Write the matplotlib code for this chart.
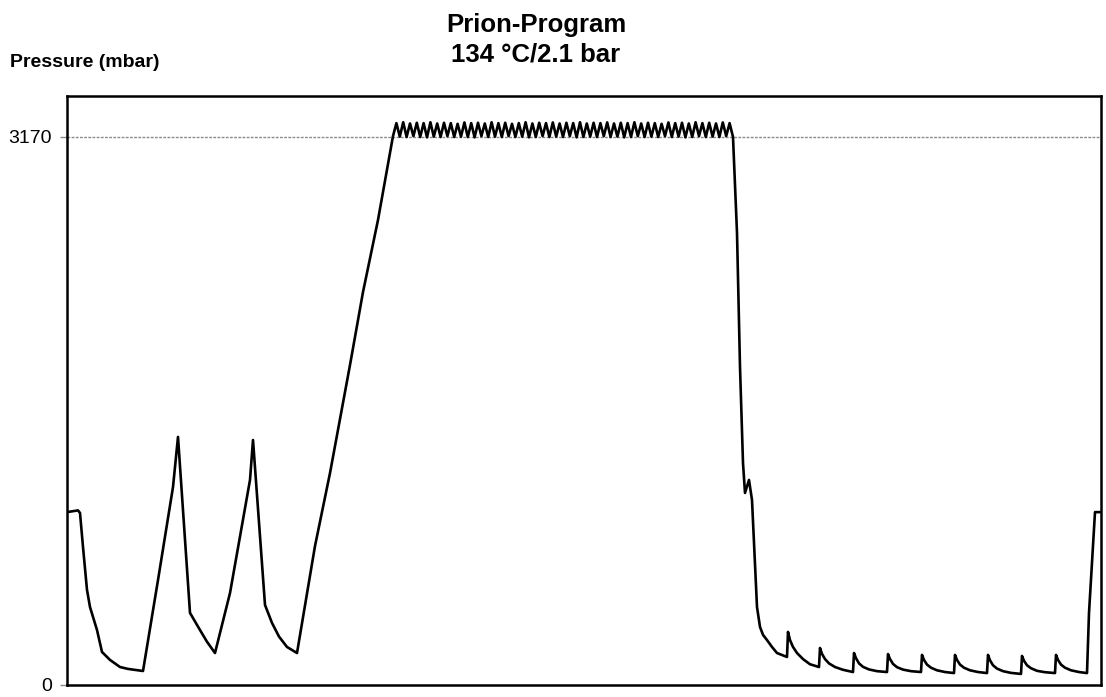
import matplotlib
matplotlib.use("Agg")
import matplotlib.pyplot as plt
import numpy as np

plt.rcParams['font.family'] = ['Liberation Sans', 'DejaVu Sans']

# pressure trace of the prion cycle (time in arbitrary units)
pre_t = [0, 1.1, 1.3, 1.6, 2.0, 2.3, 3.0, 3.5, 4.3, 5.3, 6.1, 7.6,
         9.1, 10.6, 11.1,
         12.3, 13.3, 14.0, 14.8,
         16.3, 18.3, 18.6,
         19.8, 20.5, 21.2, 22.0, 23.0,
         24.8, 26.3, 28.3, 29.6, 31.1]
pre_p = [1000, 1010, 995, 798, 550, 451, 318, 191, 145, 104, 93, 81,
         607, 1145, 1435,
         417, 318, 250, 185,
         532, 1186, 1417,
         463, 359, 280, 220, 185,
         804, 1226, 1851, 2273, 2690]

# holding phase, alternating peaks and troughs
hold_start = 32.6
hold_end = 66.6
hold_p = [3175, 3250, 3172, 3255, 3170, 3248, 3175, 3252, 3170, 3250,
          3168, 3255, 3172, 3248, 3170, 3252, 3175, 3250, 3170, 3246,
          3172, 3254, 3170, 3250, 3168, 3252, 3175, 3248, 3170, 3255,
          3172, 3250, 3170, 3252, 3175, 3246, 3170, 3250, 3172, 3255,
          3168, 3248, 3170, 3252, 3175, 3250, 3170, 3254, 3172, 3248,
          3170, 3252, 3175, 3250, 3168, 3255, 3170, 3248, 3172, 3252,
          3170, 3250, 3175, 3254, 3170, 3248, 3172, 3252, 3168, 3250,
          3170, 3255, 3175, 3248, 3170, 3252, 3172, 3250, 3170, 3246,
          3175, 3254, 3170, 3250, 3172, 3252, 3168, 3248, 3170, 3255,
          3175, 3250, 3170, 3252, 3172, 3248, 3170, 3254, 3175, 3250,
          3170]

post_t = [67.0, 67.3, 67.6, 67.8, 68.2, 68.5, 69.0, 69.3, 69.6, 70.0, 70.5, 71.0, 72.0,
          72.1, 72.3, 72.6, 73.0, 73.6, 74.3, 75.2,
          75.3, 75.5, 75.8, 76.2, 76.8, 77.6, 78.6,
          78.7, 78.9, 79.2, 79.6, 80.2, 81.0, 82.0,
          82.1, 82.3, 82.6, 83.0, 83.6, 84.4, 85.4,
          85.5, 85.7, 86.0, 86.4, 87.0, 87.8, 88.7,
          88.8, 89.0, 89.3, 89.7, 90.3, 91.1, 92.0,
          92.1, 92.3, 92.6, 93.0, 93.6, 94.4, 95.4,
          95.5, 95.7, 96.0, 96.4, 97.0, 97.8, 98.8,
          98.9, 99.1, 99.4, 99.8, 100.4, 101.2, 102.0,
          102.2, 102.5, 102.8, 103.4]
post_p = [2615, 1840, 1284, 1111, 1186, 1070, 451, 336, 290, 260, 220, 185, 162,
          307, 260, 220, 185, 150, 120, 104,
          214, 180, 150, 125, 104, 88, 75,
          185, 155, 125, 105, 90, 80, 75,
          179, 150, 122, 103, 89, 80, 75,
          174, 145, 118, 100, 85, 75, 69,
          174, 145, 118, 100, 85, 75, 69,
          174, 143, 114, 95, 80, 70, 64,
          168, 140, 114, 97, 82, 74, 69,
          174, 145, 118, 100, 85, 75, 69,
          417, 706, 1000, 1000]

set_point = 3170

hold_t = np.linspace(hold_start, hold_end, len(hold_p))
t = np.concatenate([pre_t, hold_t, post_t])
p = np.concatenate([pre_p, hold_p, post_p])

fig = plt.figure(figsize=(11.06, 6.97), dpi=100)
ax = fig.add_axes([0.06058, 0.01722, 0.93490, 0.84505])

ax.axhline(set_point, color='#8a8a8a', lw=1.0, ls=(0, (2, 1)), zorder=1)
ax.plot(t, p, color='black', lw=1.9, zorder=3)

ax.set_xlim(0, 103.4)
ax.set_ylim(0, 3407)
ax.set_xticks([])
ax.set_yticks([0, set_point])
ax.set_yticklabels(['0', '3170'])
ax.tick_params(axis='y', length=5, width=1, color='#8a8a8a', pad=6, labelsize=14)
for s in ax.spines.values():
    s.set_linewidth(1.8)
    s.set_color('black')

fig.text(536 / 1106, 1 - 32 / 697, 'Prion-Program', ha='center', va='baseline',
         fontsize=18.5, fontweight='bold')
fig.text(536 / 1106, 1 - 62 / 697, '134 °C/2.1 bar', ha='center', va='baseline',
         fontsize=18.5, fontweight='bold')
fig.text(10 / 1106, 1 - 67 / 697, 'Pressure (mbar)', ha='left', va='baseline',
         fontsize=14, fontweight='bold')

fig.savefig('out.png', dpi=100)
